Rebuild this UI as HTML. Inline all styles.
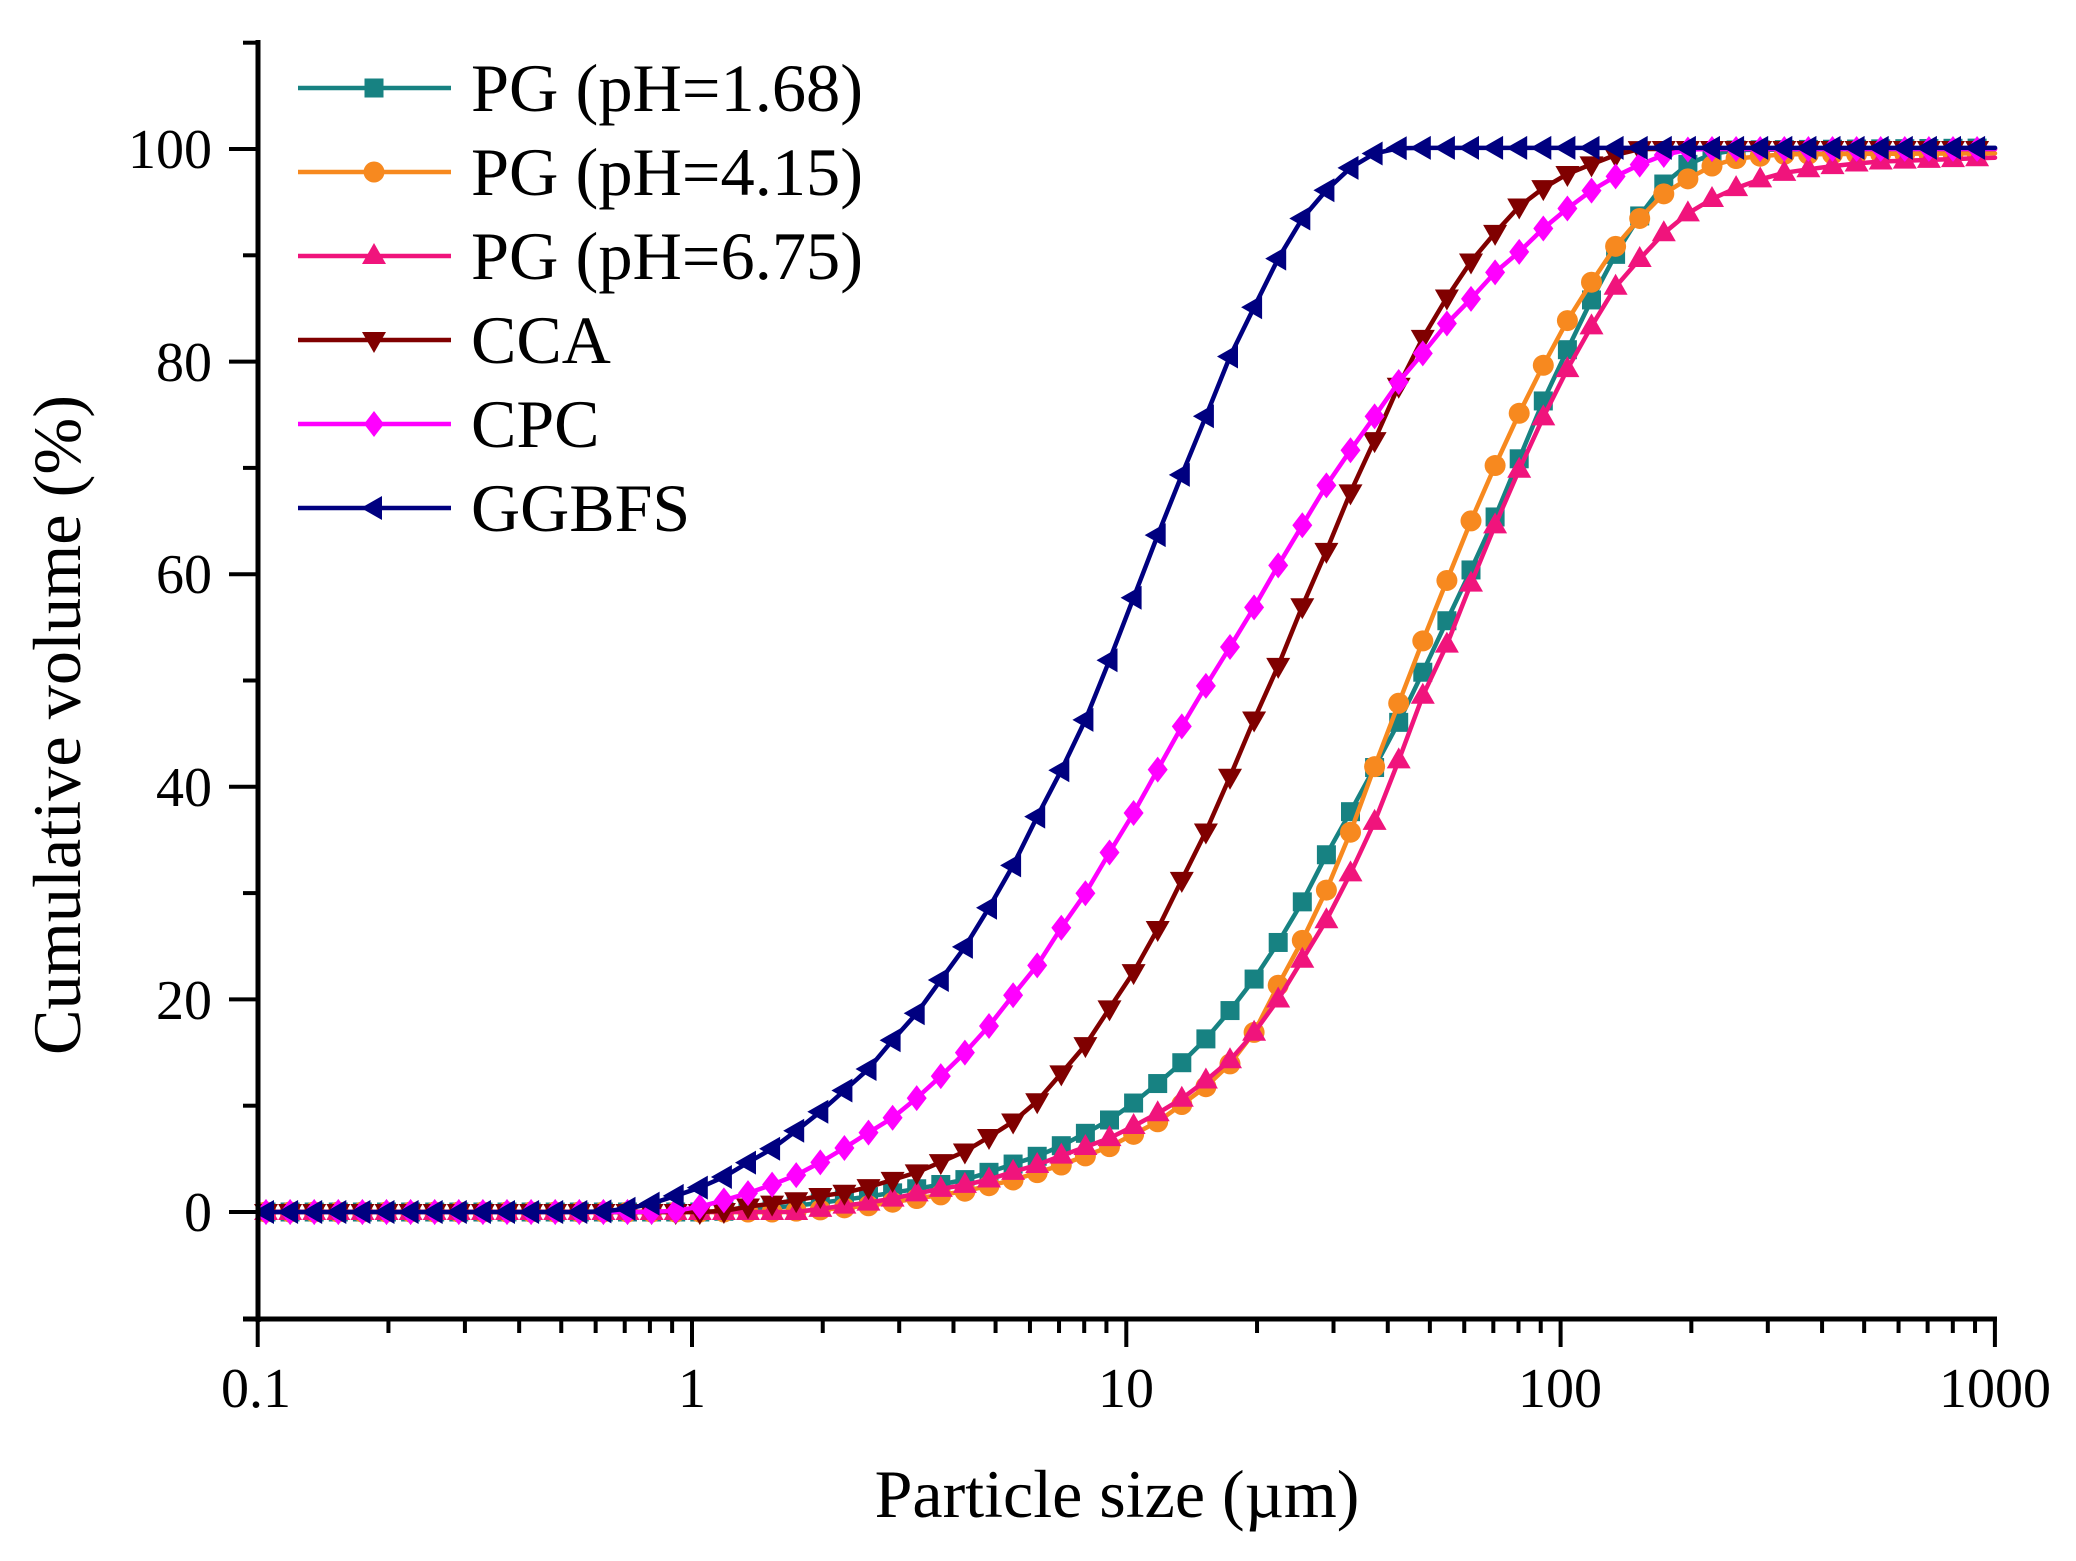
<!DOCTYPE html>
<html><head><meta charset="utf-8">
<style>
html,body{margin:0;padding:0;background:#fff;}
svg{display:block;}
text{font-family:"Liberation Serif","Times New Roman",serif;fill:#000;}
</style></head>
<body>
<svg id="c" width="2076" height="1561" viewBox="0 0 2076 1561" xmlns="http://www.w3.org/2000/svg">
<rect width="2076" height="1561" fill="#fff"/>
<g id="data"></g>
<g id="axes" stroke="#000" stroke-width="4" fill="none">
  <line x1="258" y1="40" x2="258" y2="1322" stroke-width="5"/>
  <line x1="243" y1="1319" x2="1997" y2="1319" stroke-width="5"/>
  <g id="yt"></g>
  <g id="xt"></g>
</g>
<g font-size="56" text-anchor="end">
  <text x="212" y="168">100</text>
  <text x="212" y="381">80</text>
  <text x="212" y="593">60</text>
  <text x="212" y="806">40</text>
  <text x="212" y="1019">20</text>
  <text x="212" y="1231">0</text>
</g>
<g font-size="56" text-anchor="middle">
  <text x="256" y="1407">0.1</text>
  <text x="692" y="1407">1</text>
  <text x="1126" y="1407">10</text>
  <text x="1560" y="1407">100</text>
  <text x="1995" y="1407">1000</text>
</g>
<text x="1117" y="1517" font-size="68" text-anchor="middle">Particle size (µm)</text>
<text transform="translate(80,725) rotate(-90)" font-size="68" text-anchor="middle" textLength="660" lengthAdjust="spacingAndGlyphs">Cumulative volume (%)</text>
<g id="legend"></g>
<g font-size="68">
  <text x="471" y="111" textLength="392" lengthAdjust="spacingAndGlyphs">PG (pH=1.68)</text>
  <text x="471" y="195" textLength="392" lengthAdjust="spacingAndGlyphs">PG (pH=4.15)</text>
  <text x="471" y="279" textLength="392" lengthAdjust="spacingAndGlyphs">PG (pH=6.75)</text>
  <text x="471" y="363">CCA</text>
  <text x="471" y="447">CPC</text>
  <text x="471" y="531">GGBFS</text>
</g>
</svg>
<script>
(function(){
var NS="http://www.w3.org/2000/svg";
function el(tag,attrs,parent){var e=document.createElementNS(NS,tag);for(var k in attrs)e.setAttribute(k,attrs[k]);parent.appendChild(e);return e;}
function Y(v){return 1212-10.63*v;}
function XL(d){return 257.7+434.3*(Math.log10(d)+1);}
var yt=document.getElementById('yt');
for(var v=-10;v<=110;v+=10){
  var y=Y(v); var major=(v%20===0);
  if(v===-10) {el('line',{x1:243,y1:1319,x2:258,y2:1319},yt);continue;}
  el('line',{x1:major?229:243,y1:y,x2:258,y2:y},yt);
}
var xt=document.getElementById('xt');
for(var p=-1;p<=3;p++){
  for(var m=1;m<=9;m++){
    var d=m*Math.pow(10,p); if(p===3&&m>1)break;
    var x=XL(d);
    el('line',{x1:x,y1:1319,x2:x,y2:m===1?1347:1333},xt);
  }
}
function interp(a,X){
  if(X<=a[0][0])return a[0][1];
  for(var i=1;i<a.length;i++){
    if(X<=a[i][0]){var t=(X-a[i-1][0])/(a[i][0]-a[i-1][0]);return a[i-1][1]+t*(a[i][1]-a[i-1][1]);}
  }
  return a[a.length-1][1];
}
var S=[
 {c:'#178282',m:'sq',d:[[250,0],[700,0],[736,0.1],[760,0.3],[784,0.5],[808,0.7],[832,1.0],[856,1.3],[880,1.6],[905,2.0],[930,2.4],[953,2.8],[977,3.3],[1002,4.2],[1027,4.9],[1051,5.7],[1074,6.9],[1099,8.0],[1123,9.5],[1147,11.2],[1170,13.1],[1195,15.1],[1218,17.6],[1242,20.3],[1266,23.5],[1289,27.0],[1311,30.6],[1332,34.7],[1357,38.7],[1383,43.3],[1408,47.7],[1433,52.9],[1457,57.6],[1482,62.6],[1506,67.7],[1529,73.2],[1553,78.4],[1580,83.5],[1604,88.3],[1628,92.0],[1650,95.2],[1672,97.6],[1697,99.1],[1725,99.9],[2000,100.1]]},
 {c:'#F7891F',m:'ci',d:[[250,0],[780,0],[821,0.2],[870,0.6],[919,1.3],[968,2.0],[1017,3.1],[1064,4.5],[1111,6.2],[1160,8.6],[1209,12.0],[1234,14.3],[1258,17.4],[1278,21.3],[1301,25.3],[1327,30.4],[1350,35.6],[1373,41.5],[1396,47.2],[1421,53.3],[1446,59.2],[1470,64.8],[1495,70.2],[1519,75.1],[1543,79.6],[1567,83.8],[1591,87.4],[1616,90.9],[1640,93.5],[1664,95.8],[1688,97.2],[1712,98.4],[1736,99.1],[1780,99.5],[2000,99.6]]},
 {c:'#F0147C',m:'tu',d:[[250,0],[800,0],[821,0.3],[844,0.6],[870,0.9],[895,1.3],[919,1.8],[942,2.2],[968,2.6],[991,3.1],[1017,3.9],[1040,4.5],[1064,5.4],[1088,6.2],[1111,7.0],[1136,8.2],[1160,9.4],[1186,10.9],[1209,12.6],[1234,14.6],[1258,17.3],[1282,20.5],[1304,24.0],[1330,28.0],[1355,32.7],[1378,37.4],[1400,42.8],[1422,48.4],[1449,53.8],[1473,59.6],[1496,64.8],[1520,70.0],[1544,74.9],[1568,79.4],[1592,83.4],[1616,87.1],[1642,89.9],[1666,92.3],[1690,94.1],[1714,95.4],[1738,96.4],[1762,97.2],[1786,97.8],[1824,98.3],[1872,98.8],[2000,99.2]]},
 {c:'#800000',m:'td',d:[[250,0],[700,0],[724,0.1],[747,0.5],[773,0.8],[796,1.1],[820,1.5],[844,1.8],[867,2.3],[892,3.0],[916,3.7],[941,4.7],[965,5.7],[988,7.0],[1013,8.5],[1037,10.4],[1060,12.9],[1084,15.5],[1107,18.8],[1132,22.3],[1156,26.3],[1180,30.9],[1205,35.6],[1228,40.5],[1253,46.1],[1277,51.1],[1301,56.7],[1326,62.1],[1350,67.6],[1375,72.7],[1398,77.6],[1422,82.1],[1446,85.9],[1470,89.3],[1494,92.0],[1518,94.5],[1543,96.3],[1566,97.6],[1590,98.5],[1614,99.4],[1640,100],[2000,100]]},
 {c:'#FF00FF',m:'di',d:[[250,0],[650,0],[675,0.1],[700,0.5],[724,1.1],[749,1.8],[773,2.6],[797,3.5],[821,4.7],[844,6.0],[869,7.5],[895,9.0],[919,10.9],[941,12.8],[966,15.1],[990,17.6],[1014,20.5],[1038,23.3],[1061,26.7],[1087,30.2],[1110,33.9],[1134,37.6],[1157,41.5],[1180,45.4],[1204,49.2],[1229,53.0],[1253,56.7],[1278,60.8],[1301,64.4],[1326,68.3],[1350,71.6],[1375,74.9],[1398,78.0],[1423,80.8],[1447,83.6],[1471,85.9],[1494,88.3],[1519,90.3],[1543,92.5],[1566,94.3],[1590,96.0],[1615,97.4],[1639,98.5],[1662,99.4],[1690,100],[2000,100]]},
 {c:'#000080',m:'tl',d:[[250,0],[590,0],[603,0.05],[627,0.3],[652,0.8],[675,1.5],[700,2.3],[724,3.3],[749,4.7],[773,6.0],[797,7.7],[820,9.4],[844,11.4],[869,13.5],[892,16.1],[916,18.6],[939,21.6],[964,24.8],[987,28.3],[1011,32.2],[1035,36.8],[1060,41.3],[1085,46.2],[1107,51.3],[1130,56.9],[1154,62.8],[1179,68.7],[1204,74.4],[1227,79.9],[1253,84.9],[1277,89.5],[1300,93.2],[1325,96],[1350,98.2],[1375,99.6],[1400,100.1],[2000,100.1]]}
];
function marker(type,x,y,c,g){
  switch(type){
    case 'sq': el('rect',{x:x-9.5,y:y-9.5,width:19,height:19,fill:c},g);break;
    case 'ci': el('circle',{cx:x,cy:y,r:10.5,fill:c},g);break;
    case 'tu': el('polygon',{points:(x)+','+(y-13)+' '+(x+12)+','+(y+8)+' '+(x-12)+','+(y+8),fill:c},g);break;
    case 'td': el('polygon',{points:(x)+','+(y+13)+' '+(x+12)+','+(y-8)+' '+(x-12)+','+(y-8),fill:c},g);break;
    case 'di': el('polygon',{points:(x)+','+(y-13)+' '+(x+10)+','+(y)+' '+(x)+','+(y+13)+' '+(x-10)+','+(y),fill:c},g);break;
    case 'tl': el('polygon',{points:(x-13)+','+(y)+' '+(x+8)+','+(y-12)+' '+(x+8)+','+(y+12),fill:c},g);break;
  }
}
var dg=document.getElementById('data');
S.forEach(function(s){
  var g=el('g',{},dg);
  var pts=[];
  for(var k=0;k<=71;k++){var X=266+24.1*k;pts.push([X,Y(interp(s.d,X))]);}
  var last=[1995,Y(interp(s.d,1995))];
  var all=pts.concat([last]);
  el('polyline',{points:all.map(function(p){return p[0].toFixed(1)+','+p[1].toFixed(1);}).join(' '),fill:'none',stroke:s.c,'stroke-width':4.5,'stroke-linejoin':'round','stroke-linecap':'round'},g);
  pts.forEach(function(p){marker(s.m,p[0],p[1],s.c,g);});
});
var lg=document.getElementById('legend');
var rows=[88,172,256,340,424,508];
S.forEach(function(s,i){
  el('line',{x1:298,y1:rows[i],x2:451,y2:rows[i],stroke:s.c,'stroke-width':4.5},lg);
  marker(s.m,374,rows[i],s.c,lg);
});
})();
</script>
</body></html>
